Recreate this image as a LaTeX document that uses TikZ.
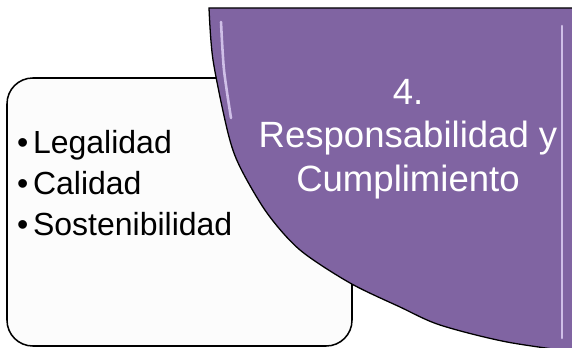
\documentclass[tikz,border=0pt]{standalone}
\usepackage{fontspec}
\setmainfont{Liberation Sans}
\usetikzlibrary{positioning}
\definecolor{wedgepurple}{RGB}{128,100,162}
\definecolor{cardgray}{RGB}{252,252,252}
\definecolor{bevelpurple}{RGB}{222,208,244}
\tikzset{%
  card/.style={draw=black, line width=1.3pt, fill=cardgray, rounded corners=22pt},% bullet card
  wedge/.style={draw=black, line width=1.1pt, fill=wedgepurple},% quarter wedge
  bevel/.style={draw=bevelpurple, line width=2.2pt, line cap=round, opacity=0.85},% light bevel edge
  entry/.style={anchor=base west, inner sep=0pt, font=\fontsize{27.3}{34.4}\selectfont},% bullet line
  wedgetext/.style={anchor=north, inner sep=0pt, align=center, text=white,
    font=\fontsize{31.2}{37.2}\selectfont}% text on the wedge
}

\begin{document}
\begin{tikzpicture}[x=0.03cm, y=-0.03cm]
\useasboundingbox (0,0) rectangle (572,348);

% card with the bullets
\draw[card] (7,78) rectangle (352,346);
\node[entry] (legalidad) at (17,154) {\textbullet\hspace{4pt}Legalidad};
\node[entry] (calidad) at (17,195) {\textbullet\hspace{4pt}Calidad};
\node[entry] (sostenibilidad) at (17,235) {\textbullet\hspace{4pt}Sostenibilidad};

% purple wedge, cut by the picture border
\begin{scope}
  \clip (0,0) rectangle (572,348);
  \draw[wedge] plot [smooth] coordinates { (209,8) (213,60) (228,133) (240,167) (267,213) (300,250) (350,283) (400,307) (440,325) (507,342) (590,354) }
    -- (590,8) -- cycle;
  \draw[bevel] (562,26) -- (562,338);
  \draw[bevel] plot [smooth] coordinates { (221,22) (224,70) (231,118) };
\end{scope}

\node[wedgetext] (responsabilidad) at (408,79) {4.\\Responsabilidad y\\Cumplimiento};

\end{tikzpicture}
\end{document}
